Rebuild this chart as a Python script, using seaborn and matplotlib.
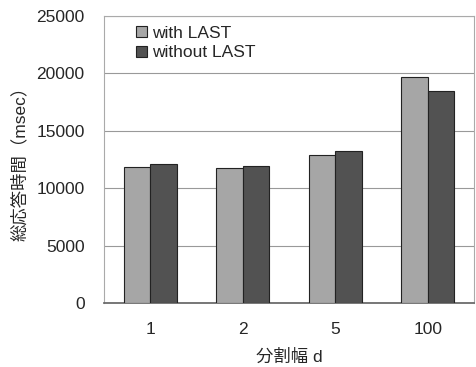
import pandas as pd
import matplotlib
matplotlib.use("Agg")
import matplotlib.pyplot as plt
import seaborn as sns

# ---------------------------
# Data
# ---------------------------
widths = ["1", "2", "5", "100"]
with_last = [11850, 11750, 12900, 19700]
without_last = [12100, 11950, 13200, 18500]
series = ["with LAST", "without LAST"]
y_ticks = [0, 5000, 10000, 15000, 20000, 25000]

df = pd.DataFrame({
    "d": widths * 2,
    "time": with_last + without_last,
    "series": [series[0]] * len(widths) + [series[1]] * len(widths),
})

sns.set_theme(style="white")
plt.rcParams["font.family"] = ["Liberation Sans", "Noto Sans CJK JP", "DejaVu Sans"]

fig = plt.figure(figsize=(4.77, 3.67), dpi=100)
ax = fig.add_axes([104 / 477, 1 - 303 / 367, 370 / 477, 287 / 367])

sns.barplot(data=df, x="d", y="time", hue="series", order=widths,
            hue_order=series, palette=["#a6a6a6", "#525252"],
            width=0.57, edgecolor="#222222", linewidth=0.8, ax=ax, zorder=3)

ax.set_ylim(0, 25000)
ax.set_yticks(y_ticks)
ax.set_yticklabels([str(v) for v in y_ticks], fontsize=12.5)
ax.yaxis.grid(True, color="#999999", linewidth=0.8, zorder=0)
ax.tick_params(axis="y", length=0, pad=14)
ax.tick_params(axis="x", length=0, pad=14, labelsize=12.5)

# small marks between categories on the baseline
ax.set_xticks([0.5, 1.5, 2.5], minor=True)
ax.tick_params(axis="x", which="minor", direction="in", length=4,
               color="#888888", width=0.8)

for side in ["top", "right", "left"]:
    ax.spines[side].set_color("#aaaaaa")
    ax.spines[side].set_linewidth(0.8)
ax.spines["bottom"].set_color("#666666")

ax.set_xlabel("分割幅 d", fontsize=12.5, labelpad=8)
ax.set_ylabel("総応答時間（msec）", fontsize=12.5, labelpad=6)

ax.legend(loc="upper left", bbox_to_anchor=(0.045, 1.02), frameon=False,
          fontsize=12.5, handlelength=0.6, handleheight=0.6,
          handletextpad=0.3, labelspacing=0.25)

fig.savefig("out.png", dpi=100)
